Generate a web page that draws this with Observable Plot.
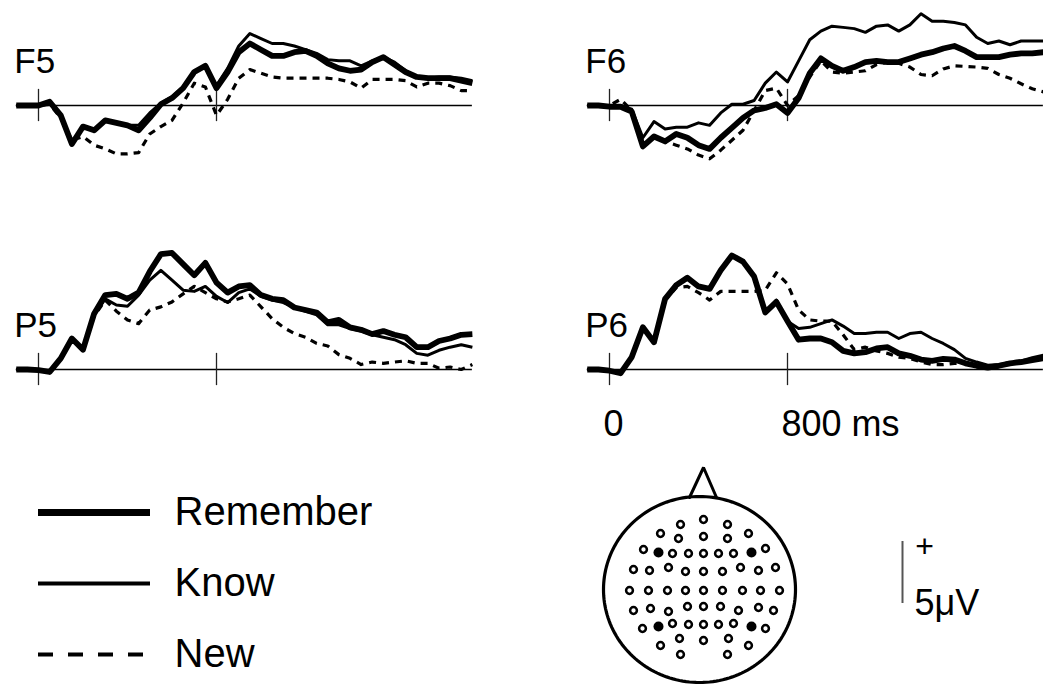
<!DOCTYPE html>
<html>
<head>
<meta charset="utf-8">
<script src="https://cdn.jsdelivr.net/npm/d3@7"></script>
<script src="https://cdn.jsdelivr.net/npm/@observablehq/plot@0.6"></script>
<style>
  html, body { margin: 0; padding: 0; background: #fff; }
  #chart { position: relative; width: 1043px; height: 686px; overflow: hidden; background: #fff;
           font-family: "Liberation Sans", Arial, Helvetica, sans-serif; }
  #chart > div { position: absolute; }
  #chart svg { overflow: visible; }
</style>
</head>
<body>
<div id="chart"></div>
<script>
// ---------------- data ----------------
const times = [-100, -50, 0, 50, 100, 150, 200, 250, 300, 350, 400, 450, 500, 550, 600, 650, 700, 750, 800, 850,
               900, 950, 1000, 1050, 1100, 1150, 1200, 1250, 1300, 1350, 1400, 1450, 1500, 1550, 1600, 1650, 1700,
               1750, 1800, 1850, 1900, 1950]; // ms
const conditions = ["Remember", "Know", "New"];
const channels = ["F5", "F6", "P5", "P6"];

// amplitudes in microvolts (positive up)
const f5Remember = [0, 0, 0, 0.3, -0.8, -3.1, -1.7, -2.0, -1.2, -1.4, -1.6, -2.0, -1.0, 0.1, 0.6, 1.4, 2.7, 3.2, 1.4, 2.7,
                    4.3, 5.0, 4.5, 4.0, 4.0, 4.3, 4.4, 4.0, 3.4, 3.0, 2.8, 2.9, 3.5, 3.9, 3.3, 2.7, 2.3, 2.2, 2.2, 2.2, 2.0, 1.8];
const f5Know     = [0, 0, 0, 0.3, -0.8, -3.0, -1.7, -2.0, -1.2, -1.4, -1.6, -1.6, -0.6, 0.2, 0.7, 1.5, 2.7, 3.1, 1.6, 3.0,
                    4.8, 5.8, 5.4, 5.0, 5.0, 4.8, 4.5, 4.2, 3.7, 3.6, 3.6, 3.2, 3.6, 3.9, 3.5, 2.8, 2.3, 2.2, 2.3, 2.3, 2.2, 2.0];
const f5New      = [0, 0, 0, 0.1, -1.0, -2.8, -2.5, -3.2, -3.5, -3.9, -3.9, -3.8, -2.3, -1.7, -1.2, 0.2, 1.8, 1.5, -0.8, 0.5,
                    2.2, 2.9, 2.6, 2.3, 2.2, 2.2, 2.2, 2.2, 2.2, 2.1, 1.9, 1.4, 2.1, 2.1, 2.1, 2.0, 1.5, 1.8, 1.8, 1.6, 1.2, 1.2];

const f6Remember = [0, 0, -0.1, -0.1, -0.5, -3.3, -2.5, -2.9, -2.3, -2.6, -3.2, -3.5, -2.6, -1.8, -1.0, -0.4, -0.2, 0.1, -0.6, 0.6,
                    2.6, 3.8, 3.2, 2.8, 3.1, 3.5, 3.6, 3.5, 3.5, 3.8, 4.1, 4.3, 4.6, 4.8, 4.4, 3.9, 3.9, 3.9, 4.1, 4.2, 4.2, 4.3];
const f6Know     = [0, 0, 0, 0, -0.3, -2.6, -1.3, -1.9, -1.75, -1.75, -1.4, -1.6, -0.6, 0.1, 0.1, 0.4, 1.8, 2.7, 1.9, 3.6,
                    5.3, 6.0, 6.4, 6.3, 6.2, 5.9, 6.4, 6.5, 6.0, 6.5, 7.4, 6.8, 6.8, 6.7, 6.5, 5.5, 5.0, 5.2, 4.9, 5.2, 5.2, 5.2];
const f6New      = [0, 0, 0, 0.5, -0.4, -3.0, -2.6, -2.9, -3.2, -3.5, -4.0, -4.3, -3.6, -2.8, -2.0, -0.4, 1.2, 1.4, 0.0, 0.8,
                    2.3, 3.6, 2.7, 2.6, 2.7, 2.8, 3.3, 3.5, 3.4, 3.1, 2.5, 2.4, 2.95, 3.2, 3.15, 3.1, 3.0, 2.5, 2.2, 1.75, 1.35, 1.1];

const p5Remember = [0, 0, -0.05, -0.2, 0.9, 2.5, 1.6, 4.5, 6.0, 6.1, 5.7, 6.2, 7.9, 9.3, 9.4, 8.5, 7.6, 8.6, 7.0, 6.2,
                    6.7, 6.8, 6.0, 5.7, 5.6, 5.0, 4.8, 4.6, 3.8, 4.0, 3.4, 3.2, 2.85, 3.1, 2.8, 2.6, 1.8, 1.8, 2.3, 2.5, 2.8, 2.85];
const p5Know     = [0, 0, -0.05, -0.2, 0.9, 2.5, 1.6, 4.4, 5.7, 5.2, 5.1, 6.0, 7.2, 8.0, 7.2, 6.4, 6.3, 6.7, 5.9, 5.4,
                    6.2, 6.5, 5.9, 5.6, 5.4, 5.0, 4.7, 4.4, 3.6, 3.6, 3.3, 3.1, 2.8, 2.6, 2.4, 2.0, 1.3, 1.15, 1.55, 1.8, 2.0, 1.8];
const p5New      = [0, 0, -0.05, -0.2, 0.8, 2.4, 1.6, 4.3, 5.6, 4.7, 4.0, 3.7, 4.8, 5.05, 5.45, 6.1, 6.7, 6.2, 5.7, 5.45,
                    5.7, 6.0, 5.05, 4.1, 3.4, 2.9, 2.6, 2.1, 1.9, 1.2, 0.9, 0.4, 0.6, 0.5, 0.6, 0.7, 0.5, 0.5, 0.1, 0.2, 0.0, 0.4];

const p6Remember = [0, 0, -0.1, -0.3, 1.0, 3.4, 2.2, 5.7, 6.8, 7.4, 6.7, 6.5, 8.0, 9.2, 8.7, 7.5, 4.6, 5.45, 3.9, 2.4,
                    2.5, 2.5, 2.2, 1.5, 1.3, 1.4, 1.7, 1.8, 1.3, 1.1, 0.8, 0.7, 0.85, 0.8, 0.5, 0.3, 0.15, 0.3, 0.5, 0.6, 0.75, 0.9];
const p6Know     = [0, 0, -0.1, -0.3, 1.0, 3.4, 2.2, 5.7, 6.8, 7.4, 6.7, 6.5, 8.0, 9.2, 8.7, 7.4, 4.6, 5.6, 3.9, 3.3,
                    3.4, 3.7, 4.0, 3.5, 2.9, 2.9, 3.0, 3.0, 2.5, 2.9, 3.0, 2.5, 2.1, 1.6, 0.9, 0.6, 0.35, 0.4, 0.5, 0.7, 0.95, 1.15];
const p6New      = [0, 0, -0.1, -0.3, 1.0, 3.3, 2.2, 5.6, 6.6, 6.7, 6.2, 5.6, 6.3, 6.3, 6.3, 6.3, 6.4, 7.8, 6.9, 4.8,
                    4.0, 3.9, 3.9, 2.8, 1.6, 1.8, 1.5, 1.3, 1.0, 0.9, 0.6, 0.4, 0.4, 0.5, 0.5, 0.3, 0.15, 0.3, 0.6, 0.7, 0.8, 0.9];

const tickTimes = [0, 800];
const tickLabels = ["0", "800 ms"];
const scaleBarMicrovolts = 5;
const scaleBarLabels = ["+", "5\u03BCV"];

// electrode montage, head-centred units (x right, y toward nose)
const siteX = [-19, 4, 28,
               -39, -21, 4, 28, 49,
               -56, -27, -11, 4, 19, 34, 66,
               -66, -50, -31, -14, 4, 23, 41, 59, 76,
               -70, -51, -32, -14, 4, 23, 43, 61, 80,
               -66, -49, -31, -12, 4, 21, 39, 59, 74,
               -57, -27, -11, 4, 19, 34, 66,
               -39, -20, 4, 29, 49,
               -19, 28];
const siteY = [65, 70, 65,
               56, 51, 53, 51, 56,
               40, 36, 36, 36, 36, 36, 41,
               20, 19, 22, 18, 18, 18, 22, 19, 22,
               -1, -1, -1, -1, -1, -1, -1, -1, -1,
               -21, -19, -22, -17, -17, -17, -21, -18, -21,
               -39, -34, -35, -35, -35, -34, -39,
               -56, -49, -51, -49, -56,
               -65, -65];
const recordedX = [-41, 52, -41, 52];   // F5, F6, P5, P6
const recordedY = [37, 37, -37, -37];
const noseX = [-10, 4, 17];
const noseY = [92, 122, 92];
const headRadii = [96, 93];

// ---------------- layout & style ----------------
const FONT = '"Liberation Sans", Arial, Helvetica, sans-serif';
const lineStyle = {
  Remember: {strokeWidth: 5.8},
  Know: {strokeWidth: 3},
  New: {strokeWidth: 3.2, strokeDasharray: "7,6"}
};
const legendStyle = {
  Remember: {strokeWidth: 7},
  Know: {strokeWidth: 4},
  New: {strokeWidth: 4, strokeDasharray: "15,15"}
};
const seriesByChannel = {
  F5: {Remember: f5Remember, Know: f5Know, New: f5New},
  F6: {Remember: f6Remember, Know: f6Know, New: f6New},
  P5: {Remember: p5Remember, Know: p5Know, New: p5New},
  P6: {Remember: p6Remember, Know: p6Know, New: p6New}
};
const panelLayout = {
  F5: {left: 0,   top: 0,   width: 480, height: 200, zero: 38, base: 105},
  F6: {left: 570, top: 0,   width: 473, height: 200, zero: 39, base: 105},
  P5: {left: 0,   top: 200, width: 480, height: 250, zero: 38, base: 169},
  P6: {left: 570, top: 200, width: 473, height: 250, zero: 39, base: 169}
};
const PX_PER_800MS = 178;
const PX_PER_5UV = 62;

const chart = document.getElementById("chart");
function place(node, left, top, w, h) {
  const d = document.createElement("div");
  d.style.left = left + "px"; d.style.top = top + "px";
  d.style.width = w + "px"; d.style.height = h + "px";
  d.appendChild(node);
  chart.appendChild(d);
}
const baseStyle = {fontFamily: FONT, background: "transparent", overflow: "visible", color: "#000"};

// ---------------- ERP panels ----------------
for (const ch of channels) {
  const L = panelLayout[ch];
  const S = seriesByChannel[ch];
  const marks = [
    Plot.ruleY([0], {x1: times[0], x2: times[times.length - 1], stroke: "#000", strokeWidth: 1.3}),
    Plot.ruleX(tickTimes, {y1: -1.3, y2: 1.3, stroke: "#222", strokeWidth: 1.3})
  ];
  for (const c of ["New", "Know", "Remember"]) {
    marks.push(Plot.line(S[c], {x: times, y: S[c], stroke: "#000", strokeLinejoin: "round",
                                strokeLinecap: "butt", ...lineStyle[c]}));
  }
  marks.push(Plot.text([ch], {x: times[0], y: 0, text: d => d, textAnchor: "start", lineAnchor: "top",
                              dx: -2, dy: -57, fontSize: 35, fill: "#000"}));
  if (ch === "P6") {
    marks.push(Plot.text(tickLabels, {x: tickTimes, y: 0, text: d => d, textAnchor: "start", lineAnchor: "top",
                                      dx: -6, dy: 41, fontSize: 36, fill: "#000"}));
  }
  const p = Plot.plot({
    width: L.width, height: L.height,
    marginLeft: 0, marginRight: 0, marginTop: 0, marginBottom: 0,
    x: {type: "linear", domain: [0, 800], range: [L.zero, L.zero + PX_PER_800MS], axis: null},
    y: {type: "linear", domain: [0, 5], range: [L.base, L.base - PX_PER_5UV], axis: null},
    style: baseStyle,
    marks
  });
  place(p, L.left, L.top, L.width, L.height);
}

// ---------------- legend ----------------
{
  const marks = conditions.map(c =>
    Plot.ruleY([c], {x1: 0, x2: 1, stroke: "#000", ...legendStyle[c]}));
  marks.push(Plot.text(conditions, {x: 1, y: d => d, text: d => d, textAnchor: "start", lineAnchor: "middle",
                                    dx: 24, fontSize: 40, fill: "#000"}));
  const p = Plot.plot({
    width: 420, height: 216, marginLeft: 0, marginRight: 0, marginTop: 0, marginBottom: 0,
    x: {type: "linear", domain: [0, 1], range: [38, 150], axis: null},
    y: {type: "point", domain: conditions, range: [42, 184], padding: 0, axis: null},
    style: baseStyle,
    marks
  });
  place(p, 0, 470, 420, 216);
}

// ---------------- head map ----------------
{
  const angles = d3.range(0, 361, 2).map(a => a * Math.PI / 180);
  const p = Plot.plot({
    width: 230, height: 231, marginLeft: 0, marginRight: 0, marginTop: 0, marginBottom: 0,
    x: {type: "linear", domain: [-96, 96], range: [13, 205], axis: null},
    y: {type: "linear", domain: [-93, 93], range: [227, 41], axis: null},
    style: baseStyle,
    marks: [
      Plot.line(angles, {x: a => headRadii[0] * Math.cos(a), y: a => headRadii[1] * Math.sin(a),
                         stroke: "#000", strokeWidth: 3.2}),
      Plot.line(noseX, {x: noseX, y: noseY, stroke: "#000", strokeWidth: 3, strokeLinejoin: "miter"}),
      Plot.dot(siteX, {x: siteX, y: siteY, r: 3.4, stroke: "#000", strokeWidth: 2.5, fill: "#fff"}),
      Plot.dot(recordedX, {x: recordedX, y: recordedY, r: 5, fill: "#000", stroke: "none"})
    ]
  });
  place(p, 590, 455, 230, 231);
}

// ---------------- scale bar ----------------
{
  const p = Plot.plot({
    width: 150, height: 120, marginLeft: 0, marginRight: 0, marginTop: 0, marginBottom: 0,
    x: {type: "linear", domain: [0, 1], range: [32, 132], axis: null},
    y: {type: "linear", domain: [0, scaleBarMicrovolts], range: [83, 83 - PX_PER_5UV], axis: null},
    style: baseStyle,
    marks: [
      Plot.ruleX([0], {y1: 0, y2: scaleBarMicrovolts, stroke: "#555", strokeWidth: 2}),
      Plot.text([scaleBarLabels[0]], {x: 0, y: scaleBarMicrovolts, text: d => d, dx: 22, dy: 5,
                                       lineAnchor: "middle", fontSize: 32, fill: "#000"}),
      Plot.text([scaleBarLabels[1]], {x: 0, y: 0, text: d => d, dx: 12, textAnchor: "start",
                                       lineAnchor: "middle", fontSize: 36, fill: "#000"})
    ]
  });
  place(p, 870, 520, 150, 120);
}
</script>
</body>
</html>
